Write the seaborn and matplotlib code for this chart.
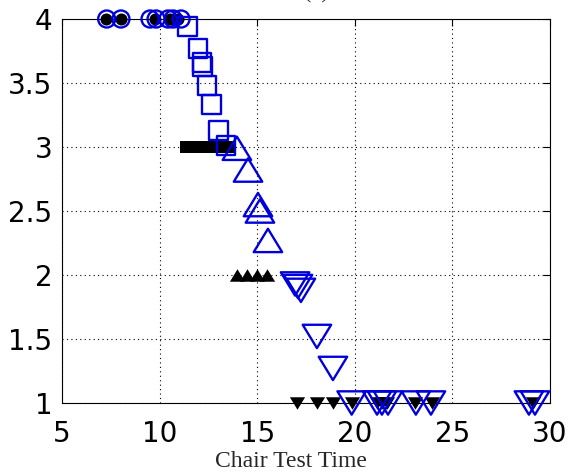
import numpy as np
import pandas as pd
import matplotlib
matplotlib.use("Agg")
import matplotlib.pyplot as plt
from matplotlib.markers import MarkerStyle
from matplotlib.path import Path
import seaborn as sns

# ---- data ----
circ_x = [7.29, 8.02, 9.51, 9.82, 10.43, 10.69, 11.10]
circ_y = [4.0, 4.0, 4.0, 4.0, 4.0, 4.0, 4.0]
sq_x = [11.45, 11.97, 12.17, 12.22, 12.43, 12.68, 13.04, 13.40]
sq_y = [3.94, 3.77, 3.66, 3.63, 3.48, 3.33, 3.13, 3.01]
up_x = [13.96, 14.53, 15.04, 15.14, 15.55]
up_y = [2.99, 2.82, 2.55, 2.50, 2.27]
dn_x = [16.94, 17.09, 17.24, 18.06, 18.88, 19.84, 21.14, 21.39, 21.70, 23.13, 23.90, 28.92, 29.23]
dn_y = [1.93, 1.91, 1.88, 1.52, 1.27, 1.0, 1.0, 1.0, 1.0, 1.0, 1.0, 1.0, 1.0]

bcirc_x = [7.25, 8.02, 9.76, 10.53, 10.94]
bcirc_y = [4.0, 4.0, 4.0, 4.0, 4.0]
bsq_x = [11.35, 11.66, 11.97, 12.27, 12.58, 12.89, 13.20, 13.55]
bsq_y = [3.0] * 8
bup_x = [13.96, 14.47, 14.99, 15.50]
bup_y = [2.0] * 4
bdn_x = [17.02, 18.05, 18.90, 19.84, 21.12, 21.38, 21.63, 23.08, 23.94, 29.14]
bdn_y = [1.0] * 10

x_ticks = [5, 10, 15, 20, 25, 30]
y_ticks = [1, 1.5, 2, 2.5, 3, 3.5, 4]
y_tick_labels = ["1", "1.5", "2", "2.5", "3", "3.5", "4"]
x_label = "Chair Test Time"
title = "(a)"

sns.set_theme(style="white")
plt.rcParams["font.family"] = ["DejaVu Sans"]

fig = plt.figure(figsize=(5.76, 4.76), dpi=100)
ax = fig.add_axes([62 / 576, 1 - 403 / 476, (550 - 62) / 576, (403 - 19) / 476])

BLUE = "#0000dd"
up_tri = MarkerStyle(Path([(-1, -0.82), (1, -0.82), (0, 0.82), (-1, -0.82)],
                          [Path.MOVETO, Path.LINETO, Path.LINETO, Path.CLOSEPOLY]))
dn_tri = MarkerStyle(Path([(-1, 0.82), (1, 0.82), (0, -0.82), (-1, 0.82)],
                          [Path.MOVETO, Path.LINETO, Path.LINETO, Path.CLOSEPOLY]))

def df(x, y):
    return pd.DataFrame({"x": x, "y": y})

# black filled (class level)
sns.scatterplot(data=df(bcirc_x, bcirc_y), x="x", y="y", ax=ax, marker="o", s=75,
                color="black", edgecolor="black", linewidth=0, clip_on=False, zorder=3)
sns.scatterplot(data=df(bsq_x, bsq_y), x="x", y="y", ax=ax, marker="s", s=66,
                color="black", edgecolor="black", linewidth=0, clip_on=False, zorder=3)
sns.scatterplot(data=df(bup_x, bup_y), x="x", y="y", ax=ax, marker=up_tri, s=120,
                color="black", edgecolor="black", linewidth=0, clip_on=False, zorder=3)
sns.scatterplot(data=df(bdn_x, bdn_y), x="x", y="y", ax=ax, marker=dn_tri, s=120,
                color="black", edgecolor="black", linewidth=0, clip_on=False, zorder=3)

# blue open markers
kw = dict(facecolor="none", edgecolor=BLUE, linewidth=1.7, clip_on=False, zorder=4)
sns.scatterplot(data=df(circ_x, circ_y), x="x", y="y", ax=ax, marker="o", s=150, **kw)
sns.scatterplot(data=df(sq_x, sq_y), x="x", y="y", ax=ax, marker="s", s=185, **kw)
sns.scatterplot(data=df(up_x, up_y), x="x", y="y", ax=ax, marker=up_tri, s=420, **kw)
sns.scatterplot(data=df(dn_x, dn_y), x="x", y="y", ax=ax, marker=dn_tri, s=420, **kw)

ax.set_xlim(5, 30)
ax.set_ylim(1, 4)
ax.set_xticks(x_ticks)
ax.set_xticklabels([str(t) for t in x_ticks])
ax.set_yticks(y_ticks)
ax.set_yticklabels(y_tick_labels)
ax.grid(True, linestyle=(0, (1, 3)), color="black", linewidth=0.8)
ax.tick_params(direction="in", length=5, width=0.8, color="black", top=True, right=True,
               labelsize=20, colors="black")
ax.tick_params(axis="x", pad=12)
ax.tick_params(axis="y", pad=7)
for sp in ax.spines.values():
    sp.set_color("black")
    sp.set_linewidth(0.8)
ax.set_ylabel("")
ax.set_xlabel(x_label, fontsize=17, family=["Liberation Serif", "DejaVu Serif"])
ax.xaxis.set_label_coords(0.47, -0.125)
ax.xaxis.label.set_va("top")

fig.text(0.55, 1.004, title, ha="center", va="baseline", fontsize=16,
         family=["Liberation Serif", "DejaVu Serif"])

fig.savefig("out.png", dpi=100, facecolor="white")
